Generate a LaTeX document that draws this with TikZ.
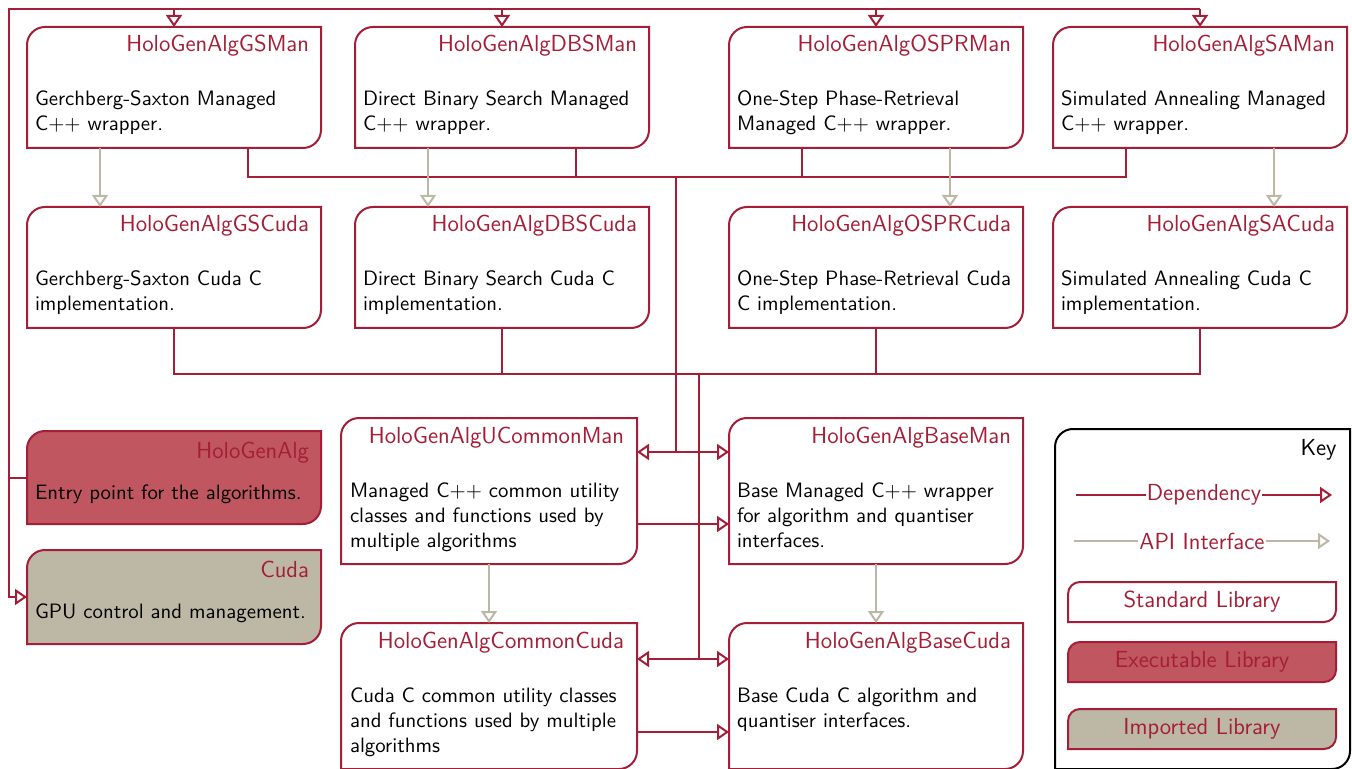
\documentclass[tikz,border=0pt]{standalone}
\usepackage{tikz}
\usetikzlibrary{arrows.meta,positioning,backgrounds}

\definecolor{holored}{HTML}{A51E37}
\definecolor{exefill}{HTML}{C0565F}
\definecolor{impfill}{HTML}{BDB8A5}

\newcommand{\titlefont}{\fontsize{11.6}{13}\selectfont}
% title on the right, description below it
\newcommand{\libtext}[2]{\makebox[139pt][r]{\rule{0pt}{12.5pt}\titlefont\textcolor{holored}{#1}\hspace{2pt}}\\[14.5pt]#2\rule[-8.5pt]{0pt}{8.5pt}}
% same for the short boxes on the left
\newcommand{\apptext}[2]{\makebox[139pt][r]{\rule{0pt}{13.5pt}\titlefont\textcolor{holored}{#1}\hspace{2pt}}\\[8pt]#2\rule[-12.5pt]{0pt}{12.5pt}}
% outline with the top left and bottom right corners rounded
\newcommand{\libshape}[3]{\path[#2] (#1.west) {[rounded corners=#3] -- (#1.north west) -- (#1.north)} -- (#1.north east) -- (#1.east) {[rounded corners=#3] -- (#1.south east) -- (#1.south)} -- (#1.south west) -- cycle;}

\begin{document}
\begin{tikzpicture}[node distance=1cm,font=\sffamily\fontsize{10.4}{12.5}\selectfont]
    \tikzset{
      libnode/.style={rectangle,inner xsep=4pt,inner ysep=0pt,outer sep=0pt,minimum width=147pt,align=left},
      libline/.style={draw=holored,line width=1pt,fill=white},
      keynode/.style={rectangle,inner sep=0pt,outer sep=0pt,minimum width=134pt,minimum height=20pt,text=holored,font=\sffamily\titlefont},
      keylabel/.style={fill=white,inner xsep=0.5pt,inner ysep=1pt,text=holored,font=\sffamily\titlefont},
      deparrow/.style={draw=holored,line width=1pt,>={Triangle[open,length=6pt,width=8pt]}},
      apiarrow/.style={draw=impfill,line width=1pt,>={Triangle[open,length=6pt,width=8pt]}}
    }
    \useasboundingbox (0,0) rectangle (676pt,-384.5pt);

    \node[libnode,anchor=north west](gsman) at (13.5pt,-13.5pt){\libtext{HoloGenAlgGSMan}{Gerchberg-Saxton Managed\\C++ wrapper.}};
    \node[libnode,right=17pt of gsman](dbsman){\libtext{HoloGenAlgDBSMan}{Direct Binary Search Managed\\C++ wrapper.}};
    \node[libnode,right=40pt of dbsman](osprman){\libtext{HoloGenAlgOSPRMan}{One-Step Phase-Retrieval\\Managed C++ wrapper.}};
    \node[libnode,right=15pt of osprman](saman){\libtext{HoloGenAlgSAMan}{Simulated Annealing Managed\\C++ wrapper.}};
    \node[libnode,below=29.5pt of gsman](gscuda){\libtext{HoloGenAlgGSCuda}{Gerchberg-Saxton Cuda C\\implementation.}};
    \node[libnode,below=29.5pt of dbsman](dbscuda){\libtext{HoloGenAlgDBSCuda}{Direct Binary Search Cuda C\\implementation.}};
    \node[libnode,below=29.5pt of osprman](osprcuda){\libtext{HoloGenAlgOSPRCuda}{One-Step Phase-Retrieval Cuda\\C implementation.}};
    \node[libnode,below=29.5pt of saman](sacuda){\libtext{HoloGenAlgSACuda}{Simulated Annealing Cuda C\\implementation.}};
    \node[libnode,minimum width=148pt,below right=45pt and 10pt of gscuda.south east](ucommonman){\libtext{HoloGenAlgUCommonMan}{Managed C++ common utility\\classes and functions used by\\multiple algorithms}};
    \node[libnode,below=45pt of osprcuda](baseman){\libtext{HoloGenAlgBaseMan}{Base Managed C++ wrapper\\for algorithm and quantiser\\interfaces.}};
    \node[libnode,minimum width=148pt,below=29.5pt of ucommonman](commoncuda){\libtext{HoloGenAlgCommonCuda}{Cuda C common utility classes\\and functions used by multiple\\algorithms}};
    \node[libnode,below=29.5pt of baseman](basecuda){\libtext{HoloGenAlgBaseCuda}{Base Cuda C algorithm and\\quantiser interfaces.\\}};
    \node[libnode,below=51.5pt of gscuda](hologenalg){\apptext{HoloGenAlg}{Entry point for the algorithms.}};
    \node[libnode,minimum height=47pt,below=13pt of hologenalg](cuda){\apptext{Cuda}{GPU control and management.}};

    % key
    \node[rectangle,inner sep=0pt,outer sep=0pt,minimum width=147.5pt,minimum height=170pt,below right=50.5pt and 1pt of sacuda.south west](key){};
    \node[anchor=base east,inner sep=0pt,font=\sffamily\titlefont](keytitle) at ([xshift=-6.5pt,yshift=-13pt]key.north east){Key};
    \coordinate (depfrom) at ([xshift=10.5pt,yshift=-33pt]key.north west);
    \coordinate (depto) at ([xshift=-9pt,yshift=-33pt]key.north east);
    \coordinate (apifrom) at ([xshift=9.5pt,yshift=-56pt]key.north west);
    \coordinate (apito) at ([xshift=-10pt,yshift=-56pt]key.north east);
    \node[keynode,anchor=north west](keystd) at ([xshift=6.5pt,yshift=-76.5pt]key.north west){Standard Library};
    \node[keynode,below=10pt of keystd](keyexe){Executable Library};
    \node[keynode,below=13.5pt of keyexe](keyimp){Imported Library};
    \draw[deparrow,->](depfrom) -- node[keylabel]{Dependency} (depto);
    \draw[apiarrow,->](apifrom) -- node[keylabel]{API Interface} (apito);

    % entry point to everything
    \coordinate (busleft) at ([xshift=-9pt]hologenalg.west);
    \coordinate (bustop) at ([yshift=9pt]gsman.north -| busleft);
    \draw[deparrow](hologenalg.west) -- (busleft) -- (bustop) -- (bustop -| saman.north);
    \draw[deparrow,->](busleft) |- (cuda.west);
    \foreach \n in {gsman,dbsman,osprman,saman}
      \draw[deparrow,->](bustop -| \n.north) -- (\n.north);

    % managed wrappers to the common managed libraries
    \coordinate (gsmandep) at ([xshift=37pt]gsman.south);
    \coordinate (dbsmandep) at ([xshift=37pt]dbsman.south);
    \coordinate (osprmandep) at ([xshift=-37pt]osprman.south);
    \coordinate (samandep) at ([xshift=-37pt]saman.south);
    \coordinate (manbus) at ([yshift=-14.5pt]gsmandep);
    \coordinate (manjoin) at ([xshift=19.5pt,yshift=-17pt]ucommonman.north east);
    \draw[deparrow](gsmandep) |- ([yshift=-14.5pt]samandep) -- (samandep);
    \foreach \n in {dbsmandep,osprmandep}
      \draw[deparrow](\n) -- ++(0,-14.5pt);
    \draw[deparrow](manbus -| manjoin) -- (manjoin);
    \draw[deparrow,<->](manjoin -| ucommonman.east) -- (manjoin -| baseman.west);
    \draw[deparrow,->]([yshift=-53pt]ucommonman.north east) -- ([yshift=-53pt]ucommonman.north east -| baseman.west);

    % cuda implementations to the common cuda libraries
    \coordinate (cudabus) at ([yshift=-23pt]gscuda.south);
    \coordinate (cudajoin) at ([xshift=31pt,yshift=-18pt]commoncuda.north east);
    \draw[deparrow](gscuda.south) |- ([yshift=-23pt]sacuda.south) -- (sacuda.south);
    \foreach \n in {dbscuda,osprcuda}
      \draw[deparrow](\n.south) -- ++(0,-23pt);
    \draw[deparrow](cudabus -| cudajoin) -- (cudajoin);
    \draw[deparrow,<->](cudajoin -| commoncuda.east) -- (cudajoin -| basecuda.west);
    \draw[deparrow,->]([yshift=-54.5pt]commoncuda.north east) -- ([yshift=-54.5pt]commoncuda.north east -| basecuda.west);

    % api interfaces
    \draw[apiarrow,->]([xshift=-37pt]gsman.south) -- ([xshift=-37pt]gscuda.north);
    \draw[apiarrow,->]([xshift=-37pt]dbsman.south) -- ([xshift=-37pt]dbscuda.north);
    \draw[apiarrow,->]([xshift=37pt]osprman.south) -- ([xshift=37pt]osprcuda.north);
    \draw[apiarrow,->]([xshift=37pt]saman.south) -- ([xshift=37pt]sacuda.north);
    \draw[apiarrow,->](ucommonman.south) -- (commoncuda.north);
    \draw[apiarrow,->](baseman.south) -- (basecuda.north);

    \begin{scope}[on background layer]
      \foreach \n in {gsman,dbsman,osprman,saman,gscuda,dbscuda,osprcuda,sacuda,ucommonman,baseman,commoncuda,basecuda}
        \libshape{\n}{libline}{9pt};
      \libshape{hologenalg}{libline,fill=exefill}{9pt}
      \libshape{cuda}{libline,fill=impfill}{9pt}
      \libshape{key}{libline,draw=black}{9pt}
      \libshape{keystd}{libline}{6pt}
      \libshape{keyexe}{libline,fill=exefill}{6pt}
      \libshape{keyimp}{libline,fill=impfill}{6pt}
    \end{scope}
  \end{tikzpicture}
\end{document}
